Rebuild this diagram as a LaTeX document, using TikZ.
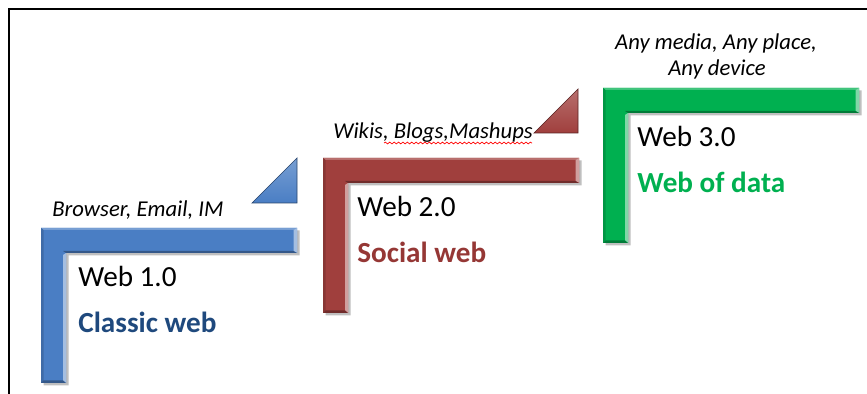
\documentclass[tikz,border=0pt]{standalone}
\usepackage{fontspec}
\setmainfont{Carlito}
\usetikzlibrary{calc}
\usetikzlibrary{decorations.pathmorphing}

\definecolor{webblue}{RGB}{74,126,196}
\definecolor{webred}{RGB}{160,63,61}
\definecolor{webgreen}{RGB}{0,176,80}
\definecolor{textblue}{RGB}{31,73,125}
\definecolor{textred}{RGB}{149,55,53}

\begin{document}
\begin{tikzpicture}[
  pics/stair/.style={code={
    \fill[black,opacity=0.25] (0.05,-0.05) -- ++(5.12,0) -- ++(0,-0.5) -- ++(-4.62,0) -- ++(0,-2.6) -- ++(-0.5,0) -- cycle;
    \fill[#1] (0,0) -- (5.12,0) -- (5.12,-0.5) -- (0.5,-0.5) -- (0.5,-3.1) -- (0,-3.1) -- cycle;
    \fill[#1!75!white] (0,0) -- (5.12,0) -- (5.05,-0.04) -- (0.05,-0.04) -- cycle;
    \fill[#1!85!black] (0,0) -- (0.05,-0.04) -- (0.05,-3.05) -- (0,-3.1) -- cycle;
    \fill[#1!50!white] (5.05,-0.04) -- (5.12,0) -- (5.12,-0.5) -- (5.05,-0.46) -- cycle;
    \fill[#1!50!white] (0.44,-0.54) -- (0.5,-0.5) -- (0.5,-3.1) -- (0.44,-3.05) -- cycle;
    \fill[#1!70!black] (0.05,-3.05) -- (0.44,-3.05) -- (0.5,-3.1) -- (0,-3.1) -- cycle;
    \fill[#1!70!black] (0.5,-0.5) -- (5.12,-0.5) -- (5.05,-0.46) -- (0.44,-0.46) -- cycle;
  }},
  wedge/.style={draw=#1!55!black, line width=0.4pt, top color=#1!75!white, bottom color=#1},
  era/.style={font=\fontsize{16.6}{19}\selectfont, anchor=base west, inner sep=0pt},
  tag/.style={font=\fontsize{16.6}{19}\selectfont\bfseries, anchor=base west, inner sep=0pt},
  usage/.style={font=\fontsize{12.9}{15}\selectfont\itshape, inner sep=0pt}
]
\useasboundingbox (0,0) rectangle (17.34,7.88);

% frame
\coordinate (FL) at (0.18,0); \coordinate (FC) at (0.18,7.70); \coordinate (FR) at (17.34,7.70);
\draw[line width=1.3pt] (FL) -- (FC) -- (FR);

% steps
\coordinate (S1) at (0.82,3.32);
\coordinate (S2) at (6.46,4.72);
\coordinate (S3) at (12.06,6.12);
\pic at (S1) {stair=webblue};
\pic at (S2) {stair=webred};
\pic at (S3) {stair=webgreen};

% wedges
\coordinate (T1) at (5.94,3.82); \coordinate (T2) at (11.56,5.22);
\draw[wedge=webblue] (T1) -- ++(0,0.9) -- ++(-0.9,-0.9) -- cycle;
\draw[wedge=webred] (T2) -- ++(0,0.88) -- ++(-0.88,-0.88) -- cycle;

% Web 1.0
\node (U1) at (1.04,3.54) [usage, anchor=base west] {Browser, Email, IM};
\node (W1) at (1.56,2.14) [era] {Web 1.0};
\node (C1) at (1.56,1.22) [tag, textblue] {Classic web};

% Web 2.0
\node (U2) at (6.66,5.10) [usage, anchor=base west] {Wikis, Blogs,Mashups};
\coordinate (SQa) at (7.68,5.02); \coordinate (SQb) at (10.64,5.02);
\draw[red, line width=0.4pt, decorate, decoration={snake, amplitude=0.5pt, segment length=2.5pt}] (SQa) -- (SQb);
\node (W2) at (7.14,3.54) [era] {Web 2.0};
\node (C2) at (7.14,2.62) [tag, textred] {Social web};

% Web 3.0
\node (U3) at (14.32,6.88) [usage, anchor=base] {Any media, Any place,};
\node (U3b) at (14.34,6.36) [usage, anchor=base] {Any device};
\node (W3) at (12.74,4.94) [era] {Web 3.0};
\node (C3) at (12.74,4.02) [tag, webgreen] {Web of data};

\end{tikzpicture}
\end{document}
